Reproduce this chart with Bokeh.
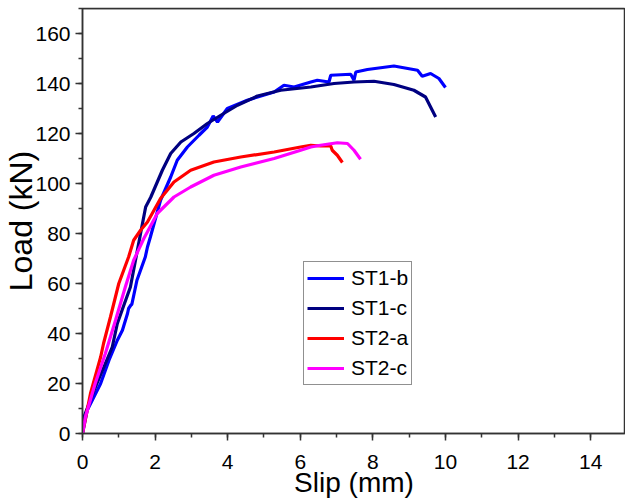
from bokeh.plotting import figure
from bokeh.models import Range1d, LinearAxis, Legend, LegendItem, FixedTicker, CustomLabelingPolicy
from bokeh.embed import file_html
from bokeh.resources import INLINE

# ---- data (slip in mm, load in kN) ----
st1b_x = [0.0, 0.13, 0.5, 0.73, 0.96, 1.1, 1.24, 1.27, 1.33, 1.36, 1.5, 1.73, 1.79, 1.87,
          2.15, 2.43, 2.61, 2.89, 3.21, 3.44, 3.6, 3.72, 3.99, 4.54, 5.28, 5.55, 5.83, 6.29, 6.47,
          6.79, 6.84, 7.39, 7.48, 7.53, 7.85, 8.58, 9.23, 9.36, 9.59, 9.82, 10.0]
st1b_y = [0.0, 9.3, 20.0, 29.3, 37.3, 41.3, 48.0, 50.0, 51.3, 51.7, 61.3, 70.6, 74.6, 78.6,
          93.3, 102.6, 109.3, 114.6, 119.3, 122.6, 127.0, 124.6, 130.0, 133.3, 136.6, 139.3, 138.6, 140.6, 141.3,
          140.6, 143.3, 143.7, 141.3, 144.6, 145.6, 147.0, 145.3, 142.9, 144.0, 142.0, 138.4]

st1c_x = [0.0, 0.04, 0.32, 0.59, 0.82, 0.96, 1.09, 1.32, 1.46, 1.6, 1.74, 1.88, 2.2, 2.43, 2.71,
          3.07, 3.44, 3.81, 4.27, 4.82, 5.46, 6.29, 6.93, 7.48, 8.03, 8.58, 9.13, 9.45, 9.73]
st1c_y = [0.0, 6.6, 17.3, 26.6, 34.6, 44.0, 49.3, 58.6, 69.3, 80.0, 90.6, 94.5, 105.3, 112.0, 116.6,
          120.0, 124.0, 127.3, 131.3, 135.0, 137.3, 138.6, 140.0, 140.6, 140.9, 139.6, 137.3, 134.6, 126.6]

st2a_x = [0.0, 0.22, 0.5, 0.58, 0.77, 1.0, 1.27, 1.41, 1.6, 1.79, 2.15, 2.52, 2.98, 3.62, 4.36,
          5.28, 6.01, 6.29, 6.56, 6.84, 6.88, 7.02, 7.16]
st2a_y = [0.0, 16.0, 30.6, 36.0, 46.6, 60.0, 70.6, 77.3, 81.3, 84.6, 94.0, 100.6, 105.3, 108.6, 110.6,
          112.6, 114.6, 115.3, 115.0, 115.0, 113.3, 111.3, 108.4]

st2c_x = [0.0, 0.08, 0.35, 0.63, 0.91, 1.18, 1.41, 1.69, 2.06, 2.52, 2.98, 3.62, 4.36, 5.28, 6.01,
          6.29, 6.56, 7.02, 7.3, 7.48, 7.66]
st2c_y = [0.0, 6.6, 20.0, 32.0, 45.3, 58.6, 69.3, 78.0, 88.0, 94.6, 98.6, 103.3, 106.6, 110.0, 113.3,
          114.6, 115.3, 116.3, 116.0, 113.3, 109.7]

series_names = ["ST1-b", "ST1-c", "ST2-a", "ST2-c"]
series_colors = ["#0000FF", "#000080", "#FF0000", "#FF00FF"]
x_ticks = [0, 2, 4, 6, 8, 10, 12, 14]
y_ticks = [0, 20, 40, 60, 80, 100, 120, 140, 160]

FONT = "Liberation Sans"
Y_END = 170.0

p = figure(width=625, height=502, output_backend="svg", toolbar_location=None,
           x_range=Range1d(0, 14.96), y_range=Range1d(0, Y_END),
           min_border_left=82, min_border_right=0, min_border_top=8, min_border_bottom=69)
p.xgrid.visible = False
p.ygrid.visible = False
p.outline_line_color = "#333333"
p.outline_line_width = 1.5
p.background_fill_color = "white"
p.border_fill_color = "white"

renderers = []
for xs, ys, c in zip([st1b_x, st1c_x, st2a_x, st2c_x], [st1b_y, st1c_y, st2a_y, st2c_y], series_colors):
    r = p.line(xs, ys, line_color=c, line_width=3.2)
    renderers.append(r)

def style_axis(ax):
    ax.axis_line_color = "#333333"
    ax.axis_line_width = 1.5
    ax.major_tick_line_color = "#333333"
    ax.minor_tick_line_color = "#333333"
    ax.major_tick_line_width = 1.5
    ax.minor_tick_line_width = 1.5
    ax.major_tick_out = 7
    ax.major_tick_in = 0
    ax.minor_tick_out = 4
    ax.minor_tick_in = 0
    ax.major_label_text_font = FONT
    ax.major_label_text_color = "black"
    ax.major_label_text_font_size = "21px"
    ax.axis_label_text_font = FONT
    ax.axis_label_text_font_style = "normal"
    ax.axis_label_text_color = "black"

xa = p.xaxis[0]
xa.ticker = FixedTicker(ticks=x_ticks, minor_ticks=list(range(0, 16)))
xa.axis_label = "Slip (mm)"
style_axis(xa)
xa.axis_label_text_font_size = "28px"
xa.major_label_standoff = 14
xa.axis_label_standoff = -5

ya = p.yaxis[0]
ya.ticker = FixedTicker(ticks=y_ticks, minor_ticks=list(range(0, 171, 10)))
ya.axis_label = "Load (kN)"
style_axis(ya)
ya.axis_label_text_font_size = "32px"
ya.major_label_standoff = 5
ya.axis_label_standoff = -7

# top frame edge with outward ticks, no labels, takes no layout space
top = LinearAxis(ticker=FixedTicker(ticks=x_ticks, minor_ticks=list(range(0, 16))),
                 fixed_location=Y_END,
                 major_label_policy=CustomLabelingPolicy(code="for (const i of indices) indices.unset(i)"))
style_axis(top)
top.major_label_text_alpha = 0
p.add_layout(top, "above")

items = [LegendItem(label=n, renderers=[r]) for n, r in zip(series_names, renderers)]
legend = Legend(items=items, location=(221, 48))
legend.border_line_color = "#222222"
legend.border_line_width = 1
legend.background_fill_color = "white"
legend.background_fill_alpha = 1
legend.label_text_font = FONT
legend.label_text_font_size = "21px"
legend.label_text_color = "black"
legend.glyph_width = 37
legend.glyph_height = 26
legend.label_height = 26
legend.spacing = 4
legend.padding = 3
legend.margin = 0
legend.label_standoff = 7
p.add_layout(legend, "center")

open("out.html", "w").write(file_html(p, INLINE))
